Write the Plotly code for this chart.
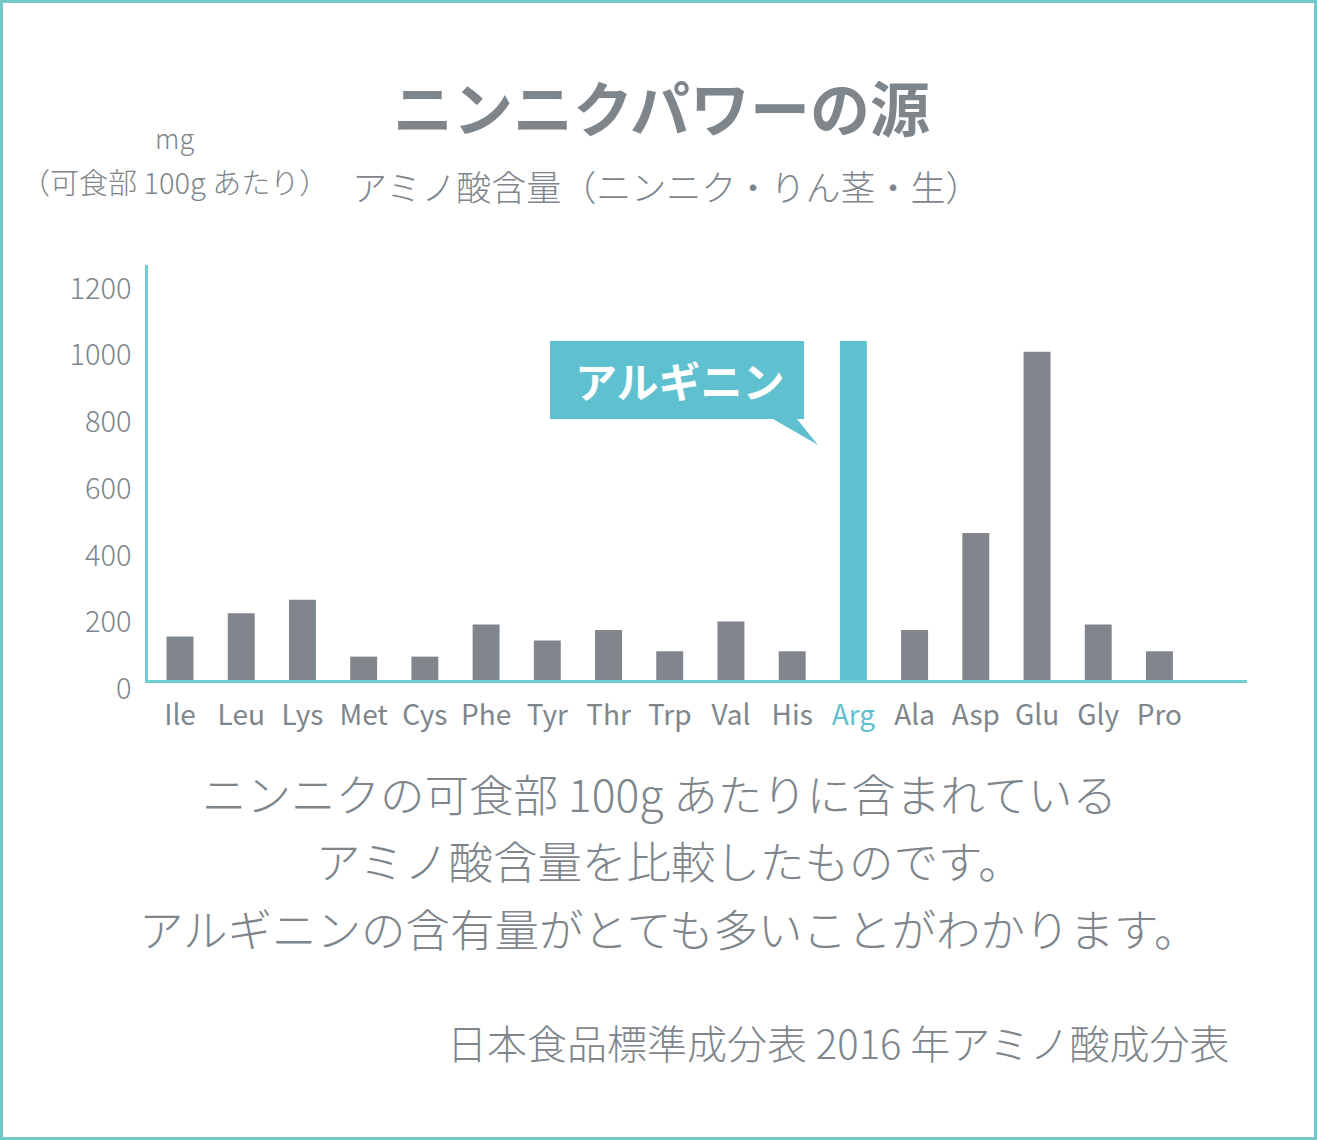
import plotly.graph_objects as go

# ---- data ----
amino_acids = ["Ile", "Leu", "Lys", "Met", "Cys", "Phe", "Tyr", "Thr", "Trp",
               "Val", "His", "Arg", "Ala", "Asp", "Glu", "Gly", "Pro"]
content_mg = [130, 200, 240, 70, 70, 166, 118, 150, 86,
              175, 86, 1015, 150, 440, 983, 166, 86]
highlight = "Arg"
y_ticks = [0, 200, 400, 600, 800, 1000, 1200]

title_text = "ニンニクパワーの源"
subtitle_text = "アミノ酸含量（ニンニク・りん茎・生）"
unit_text = "mg"
unit_note = "（可食部 100g あたり）"
callout_text = "アルギニン"
body_lines = ["ニンニクの可食部 100g あたりに含まれている",
              "アミノ酸含量を比較したものです。",
              "アルギニンの含有量がとても多いことがわかります。"]
source_text = "日本食品標準成分表 2016 年アミノ酸成分表"

# ---- style ----
W, H = 1317, 1140
L, R, T, B = 148, 70, 265, 460
PW, PH = W - L - R, H - T - B
GRAY = "#80868b"
TEXT = "#7e868c"
TEAL = "#5fc1cf"
AXIS = "#6dcfd0"
BORDER = "#74c8c9"
FONT = "Noto Sans CJK JP"


def px(x):
    return (x - L) / PW


def py(y):
    return (H - B - y) / PH


bar_colors = [TEAL if a == highlight else GRAY for a in amino_acids]
tick_text = [f"<span style='color:{TEAL}'>{a}</span>" if a == highlight else a
             for a in amino_acids]

fig = go.Figure(go.Bar(
    x=amino_acids, y=content_mg, width=0.44,
    marker=dict(color=bar_colors, line=dict(width=0)),
    hoverinfo="skip",
))

fig.update_layout(
    width=W, height=H, autosize=False,
    margin=dict(l=L, r=R, t=T, b=B, pad=0),
    paper_bgcolor="white", plot_bgcolor="white",
    showlegend=False,
    font=dict(family=FONT, color=TEXT),
)

fig.update_xaxes(
    type="category", range=[-0.523, 17.43],
    tickmode="array", tickvals=amino_acids, ticktext=tick_text,
    showline=True, linecolor=AXIS, linewidth=2.5,
    showgrid=False, zeroline=False, ticks="",
    tickfont=dict(size=28, color=TEXT, family=FONT, weight=400),
    ticklabelstandoff=9, automargin=False,
)
fig.update_yaxes(
    range=[0, 1243], tickmode="array", tickvals=y_ticks,
    showline=True, linecolor=AXIS, linewidth=2.5,
    showgrid=False, zeroline=False, ticks="",
    tickfont=dict(size=29, color=TEXT, family=FONT, weight=300),
    ticklabelstandoff=8, ticklabelshift=9, automargin=False,
)

shapes = []
# outer border
shapes.append(dict(type="rect", xref="paper", yref="paper",
                   x0=px(1.5), x1=px(W - 1.5), y0=py(H - 1.5), y1=py(1.5),
                   line=dict(color=BORDER, width=3), fillcolor="rgba(0,0,0,0)",
                   layer="below"))
# callout bubble
pts = [(550, 341), (804, 341), (804, 419), (797, 419), (818, 445), (773, 419), (550, 419)]
path = "M " + " L ".join(f"{px(x):.5f},{py(y):.5f}" for x, y in pts) + " Z"
shapes.append(dict(type="path", xref="paper", yref="paper", path=path,
                   fillcolor=TEAL, line=dict(width=0)))
fig.update_layout(shapes=shapes)

ann = []


def add_text(text, x, y, size, xanchor="center", bold=False, color=TEXT):
    ann.append(dict(text=f"<b>{text}</b>" if bold else text,
                    x=px(x), y=py(y), xref="paper", yref="paper",
                    xanchor=xanchor, yanchor="middle", showarrow=False,
                    font=dict(size=size, color=color, family=FONT,
                              weight=700 if bold else 300)))


add_text(title_text, 661, 106, 60, bold=True)
add_text(unit_text, 174, 137, 27)
add_text(unit_note, 174, 181, 29)
add_text(subtitle_text, 666, 185, 35)
add_text(callout_text, 680, 379, 42, bold=True, color="white")
body_x = [659, 669, 669]
for i, line in enumerate(body_lines):
    add_text(line, body_x[i], 792 + 67.5 * i, 44.5)
add_text(source_text, 1231, 1042, 40, xanchor="right")

fig.update_layout(annotations=ann)

fig.write_html(
    "out.html",
    config={"displayModeBar": False},
    post_script="document.body.style.margin='0';document.body.style.overflow='hidden';",
)
